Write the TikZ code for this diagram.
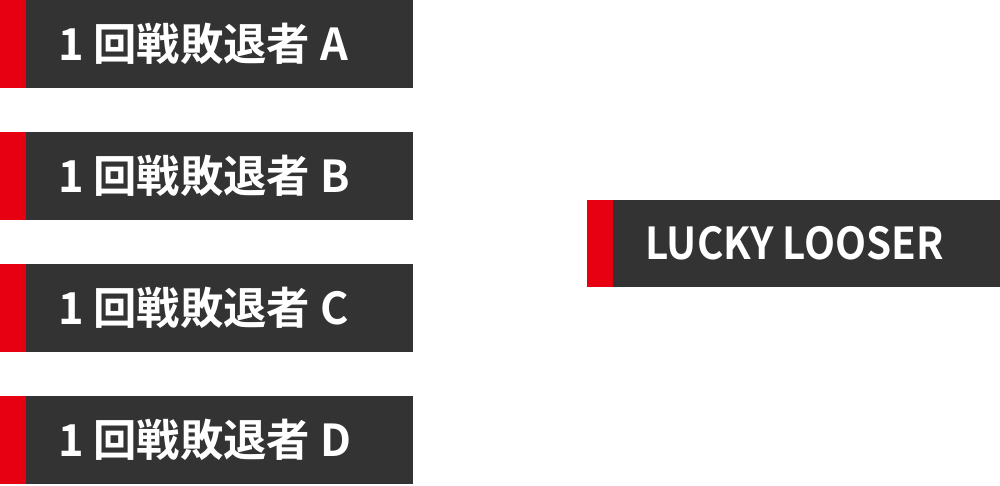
\documentclass[tikz,border=0pt]{standalone}
\usepackage{fontspec}
\usepackage{graphicx}
\newfontfamily\jpfont{Noto Sans CJK JP}[BoldFont={* Bold}]
\definecolor{boxgray}{HTML}{333333}
\definecolor{stripred}{HTML}{E60012}
\begin{document}
\begin{tikzpicture}[x=1pt,y=-1pt,
  barbox/.style={fill=boxgray,draw=none},
  stripe/.style={fill=stripred,draw=none},
  lbl/.style={anchor=west,inner sep=0pt,text=white,font=\jpfont\bfseries\fontsize{44}{44}\selectfont}]
\useasboundingbox (0,0) rectangle (1000,485);
% left boxes
\foreach \n/\y/\t in {a/0/A,b/132/B,c/264/C,d/396/D}{
  \fill[barbox] (0,\y) rectangle (413,\y+88);
  \fill[stripe] (0,\y) rectangle (26,\y+88);
  \node[lbl] (\n) at (58,\y+44) {\scalebox{0.985}[1]{1 回戦敗退者 \t}};
}
% right box
\fill[barbox] (587,200) rectangle (1000,287);
\fill[stripe] (587,200) rectangle (613,287);
\node[lbl] (ll) at (645,243.5) {\scalebox{0.916}[1]{LUCKY LOOSER}};
\end{tikzpicture}
\end{document}
